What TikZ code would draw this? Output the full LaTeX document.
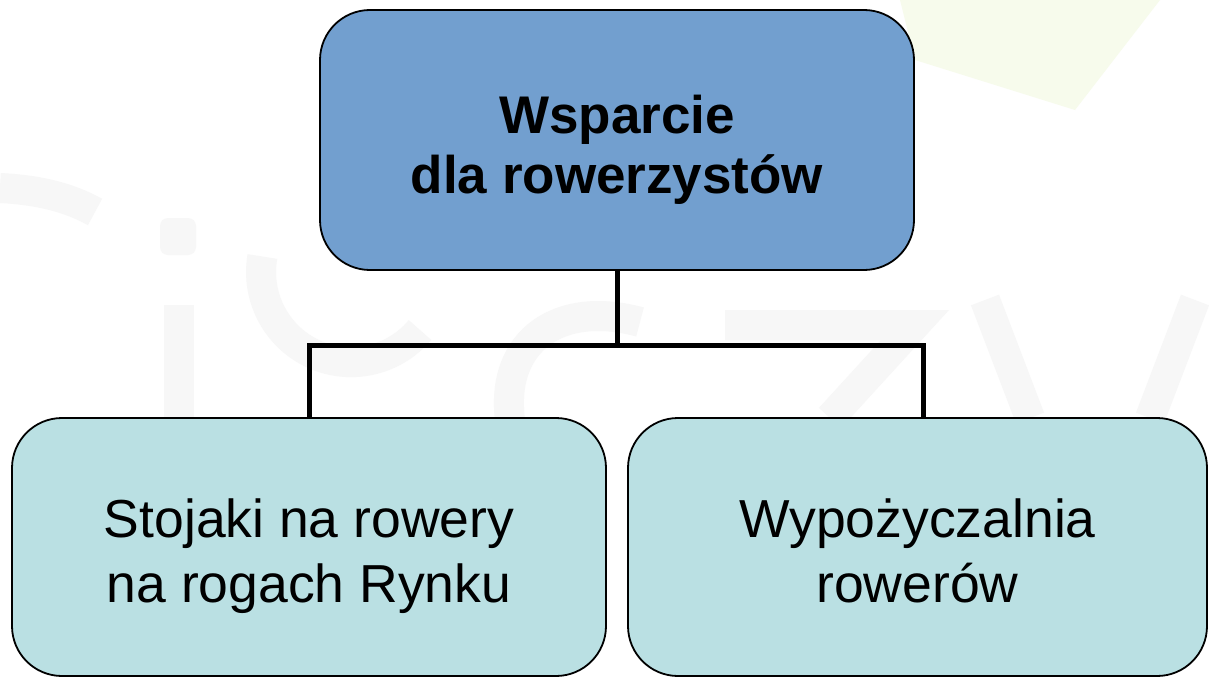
\documentclass[tikz,border=0pt]{standalone}
\usepackage{fontspec}
\setmainfont{Liberation Sans}
\definecolor{topblue}{RGB}{114,159,207}
\definecolor{subcyan}{RGB}{186,224,227}
\definecolor{wmgray}{RGB}{247,247,247}
\definecolor{wmgreen}{RGB}{247,251,236}
\newcommand{\upstrut}{\rule{0pt}{60pt}}
\newcommand{\downstrut}[1]{\rule[-#1]{0pt}{#1}}
\begin{document}
\begin{tikzpicture}[x=1pt,y=-1pt,
  box/.style={draw=black, line width=1.8pt, rounded corners=50pt, align=center, inner sep=0pt},
  topbox/.style={box, fill=topblue, minimum width=594pt, minimum height=260pt, font=\fontsize{53}{60}\selectfont\bfseries},
  subbox/.style={box, fill=subcyan, minimum height=258pt, font=\fontsize{53.5}{65}\selectfont},
  link/.style={line width=5pt},
  wm/.style={draw=wmgray, line width=30pt}]
\fill[white] (0,0) rectangle (1209,677);
\useasboundingbox (0,0) rectangle (1209,677);
% faint watermark
\fill[wmgreen] (900,0) -- (1160,0) -- (1075,110) -- (915,60) -- cycle;
\draw[wm] (0,188) .. controls (40,190) and (70,198) .. (95,212);
\fill[wmgray, rounded corners=8pt] (160,218) rectangle (196,255);
\draw[wm] (179,305) -- (179,677);
\draw[wm] (420,330) arc (40:190:90);
\draw[wm] (640,322) .. controls (560,300) and (500,340) .. (510,420);
\draw[wm] (725,325) -- (915,325) -- (830,418);
\draw[wm] (985,300) -- (1030,418);
\draw[wm] (1195,300) -- (1150,418);
% boxes
\node[topbox] (top) at (617,140) {\upstrut Wsparcie\\dla rowerzystów\downstrut{14pt}};
\node[subbox, minimum width=594pt] (left) at (309,547) {\upstrut Stojaki na rowery\\na rogach Rynku\downstrut{15pt}};
\node[subbox, minimum width=579pt] (right) at (917.5,547) {\upstrut Wypożyczalnia\\rowerów\downstrut{15pt}};
% connectors
\coordinate (bar) at (617,345);
\draw[link] (top.south) -- (bar);
\draw[link] (left.north) |- (bar) -| ([xshift=6pt]right.north);
\end{tikzpicture}
\end{document}
